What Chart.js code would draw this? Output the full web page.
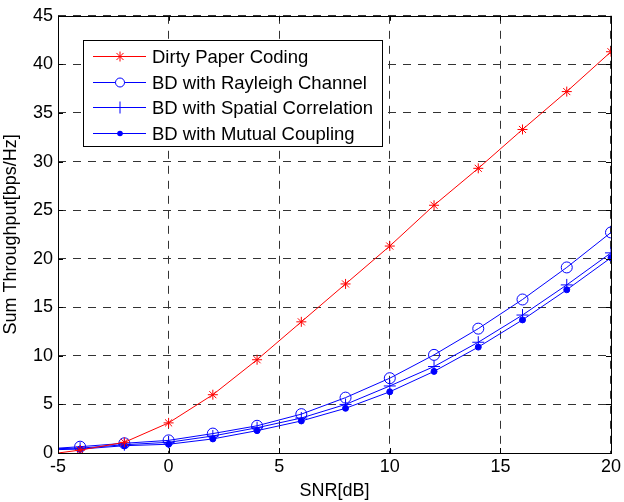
<!DOCTYPE html>
<html><head><meta charset="utf-8">
<script src="https://cdn.jsdelivr.net/npm/chart.js@4.4.1/dist/chart.umd.min.js"></script>
<style>html,body{margin:0;padding:0;background:#fff}#wrap{width:624px;height:502px}</style>
</head><body><div id="wrap"><canvas id="c" width="624" height="502"></canvas></div>
<script>
const snr = [-5, -4, -2, 0, 2, 4, 6, 8, 10, 12, 14, 16, 18, 20];
const dirtyPaper = [0.0, 0.3, 1.1, 3.1, 6.0, 9.6, 13.5, 17.4, 21.3, 25.5, 29.3, 33.3, 37.2, 41.3];
const bdRayleigh = [0.5, 0.65, 1.0, 1.3, 2.0, 2.8, 4.0, 5.7, 7.7, 10.1, 12.8, 15.8, 19.1, 22.7];
const bdSpatial = [0.45, 0.5, 0.85, 1.1, 1.75, 2.6, 3.6, 5.0, 6.9, 8.9, 11.4, 14.2, 17.3, 20.6];
const bdMutual = [0.35, 0.4, 0.75, 0.9, 1.45, 2.3, 3.3, 4.6, 6.3, 8.4, 10.9, 13.7, 16.8, 20.1];
const seriesLabels = ['Dirty Paper Coding', 'BD with Rayleigh Channel', 'BD with Spatial Correlation', 'BD with Mutual Coupling'];
const xTicks = [-5, 0, 5, 10, 15, 20];
const yTicks = [0, 5, 10, 15, 20, 25, 30, 35, 40, 45];

const FONT = 'Liberation Sans, Arial, sans-serif';
function pts(arr){ return snr.map((x,i)=>({x:x,y:arr[i]})); }
function radii(r){ return snr.map(x => x === -5 ? 0 : r); }

const styles = [
  {color:'#ff0000', pointStyle:'star', r:5, fill:false},
  {color:'#0000ff', pointStyle:'circle', r:5.5, fill:false},
  {color:'#0000ff', pointStyle:'cross', r:6, fill:false},
  {color:'#0000ff', pointStyle:'circle', r:3, fill:true}
];
const datas = [dirtyPaper, bdRayleigh, bdSpatial, bdMutual];

const datasets = datas.map((d,i)=>({
  label: seriesLabels[i],
  data: pts(d),
  borderColor: styles[i].color,
  backgroundColor: styles[i].fill ? styles[i].color : 'rgba(0,0,0,0)',
  pointBorderColor: styles[i].color,
  pointBackgroundColor: styles[i].fill ? styles[i].color : 'rgba(0,0,0,0)',
  pointStyle: styles[i].pointStyle,
  pointRadius: radii(styles[i].r),
  pointHoverRadius: radii(styles[i].r),
  pointBorderWidth: 1,
  borderWidth: 1,
  tension: 0,
  fill: false
}));

const framePlugin = {
  id: 'frame',
  afterDraw(chart){
    const ctx = chart.ctx, a = chart.chartArea;
    ctx.save();
    ctx.strokeStyle = '#000'; ctx.lineWidth = 1; ctx.setLineDash([]);
    ctx.strokeRect(Math.round(a.left)+0.5, Math.round(a.top)+0.5, Math.round(a.right-a.left), Math.round(a.bottom-a.top));
    const xs = chart.scales.x, ys = chart.scales.y;
    ctx.beginPath();
    xTicks.forEach(v=>{ const px=Math.round(xs.getPixelForValue(v))+0.5;
      ctx.moveTo(px,a.bottom); ctx.lineTo(px,a.bottom-5); ctx.moveTo(px,a.top); ctx.lineTo(px,a.top+5); });
    yTicks.forEach(v=>{ const py=Math.round(ys.getPixelForValue(v))+0.5;
      ctx.moveTo(a.left,py); ctx.lineTo(a.left+5,py); ctx.moveTo(a.right,py); ctx.lineTo(a.right-5,py); });
    ctx.stroke();
    // legend
    const lx = 83.5, ly = 40.5, lw = 299, lh = 106;
    ctx.fillStyle = '#fff'; ctx.fillRect(lx, ly, lw, lh);
    ctx.strokeStyle = '#000';
    ctx.strokeRect(lx, ly, lw, lh);
    ctx.font = '18.5px ' + FONT; ctx.textBaseline = 'middle'; ctx.textAlign = 'left';
    chart.data.datasets.forEach((ds,i)=>{
      const y = Math.round(ly + 15.5 + i*25.6) + 0.5;
      const st = styles[i];
      ctx.strokeStyle = ds.borderColor; ctx.lineWidth = 1;
      ctx.beginPath(); ctx.moveTo(93, y); ctx.lineTo(146, y); ctx.stroke();
      const mx = 120;
      ctx.beginPath();
      if (st.pointStyle === 'circle' && st.fill) {
        ctx.fillStyle = ds.borderColor; ctx.arc(mx, y, 2.8, 0, Math.PI*2); ctx.fill();
      } else if (st.pointStyle === 'circle') {
        ctx.fillStyle = '#fff'; ctx.arc(mx, y, 4.5, 0, Math.PI*2); ctx.fill(); ctx.stroke();
      } else if (st.pointStyle === 'cross') {
        ctx.moveTo(mx-6, y); ctx.lineTo(mx+6, y); ctx.moveTo(mx, y-6); ctx.lineTo(mx, y+6); ctx.stroke();
      } else {
        const r = 5;
        for (let k=0;k<4;k++){ const ang=k*Math.PI/4; ctx.moveTo(mx-r*Math.cos(ang), y-r*Math.sin(ang)); ctx.lineTo(mx+r*Math.cos(ang), y+r*Math.sin(ang)); }
        ctx.stroke();
      }
      ctx.fillStyle = '#000';
      ctx.fillText(ds.label, 152, y+1);
    });
    ctx.restore();
  }
};

new Chart(document.getElementById('c'), {
  type: 'line',
  data: { datasets: datasets },
  plugins: [framePlugin],
  options: {
    responsive: false, animation: false, devicePixelRatio: 1,
    layout: { padding: { left: 0, right: 7, top: 15, bottom: 0 } },
    plugins: { legend: { display: false }, tooltip: { enabled: false } },
    scales: {
      x: {
        type: 'linear', min: -5, max: 20,
        afterBuildTicks: s => { s.ticks = xTicks.map(v=>({value:v})); },
        afterFit: s => { s.height = 49; },
        grid: { color: '#333', lineWidth: 1, drawTicks: false, tickLength: 0 },
        border: { display: false, dash: [8,7] },
        ticks: { color: '#000', font: { family: FONT, size: 18 }, padding: 3, maxRotation: 0 },
        title: { display: true, text: 'SNR[dB]', color: '#000', font: { family: FONT, size: 18 }, padding: { top: 1, bottom: 0 } }
      },
      y: {
        type: 'linear', min: 0, max: 45,
        afterBuildTicks: s => { s.ticks = yTicks.map(v=>({value:v})); },
        afterFit: s => { s.width = 58; },
        grid: { color: '#333', lineWidth: 1, drawTicks: false, tickLength: 0 },
        border: { display: false, dash: [8,7] },
        ticks: { color: '#000', font: { family: FONT, size: 18 }, padding: 5 },
        title: { display: true, text: 'Sum Throughput[bps/Hz]', color: '#000', font: { family: FONT, size: 18 }, padding: { top: 0, bottom: 2 } }
      }
    }
  }
});
</script>
</body></html>
